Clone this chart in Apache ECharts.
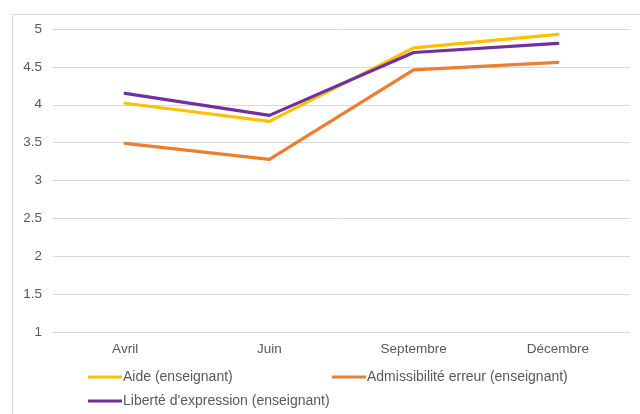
<!DOCTYPE html>
<html>
<head>
<meta charset="utf-8">
<script src="https://cdn.jsdelivr.net/npm/echarts@6/dist/echarts.min.js"></script>
<style>
  html, body { margin: 0; padding: 0; background: #fff; }
  #chart { width: 640px; height: 414px; }
</style>
</head>
<body>
<div id="chart"></div>
<script>
// Mois de mesure
const months = ['Avril', 'Juin', 'Septembre', 'Décembre'];

// Scores moyens par dimension (perception de l'enseignant)
const aide = [4.02, 3.78, 4.75, 4.93];
const admissibiliteErreur = [3.49, 3.28, 4.46, 4.56];
const liberteExpression = [4.15, 3.86, 4.69, 4.81];

const seriesNames = [
  'Aide (enseignant)',
  'Admissibilité erreur (enseignant)',
  "Liberté d'expression (enseignant)"
];
const seriesColors = ['#FFC000', '#ED7D31', '#7030A0'];
const seriesData = [aide, admissibiliteErreur, liberteExpression];

const font = 'Liberation Sans, Arial, Helvetica, sans-serif';
const textColor = '#595959';

const chart = echarts.init(document.getElementById('chart'), null, { renderer: 'canvas' });

function legendAt(name, left, top) {
  return {
    data: [name],
    left: left,
    top: top,
    orient: 'horizontal',
    icon: 'rect',
    itemWidth: 34,
    itemHeight: 3,
    itemGap: 0,
    padding: 0,
    textStyle: { fontFamily: font, fontSize: 14, color: textColor, padding: [0, 0, 0, -4] }
  };
}

chart.setOption({
  animation: false,
  backgroundColor: '#ffffff',
  graphic: [{
    type: 'rect',
    shape: { x: 12.5, y: 14.5, width: 700, height: 500 },
    style: { fill: 'none', stroke: '#d9d9d9', lineWidth: 1 },
    silent: true
  }],
  grid: { left: 53, right: 10, top: 29, bottom: 82, containLabel: false },
  legend: [
    legendAt(seriesNames[0], 88, 370),
    legendAt(seriesNames[1], 332, 370),
    legendAt(seriesNames[2], 88, 394)
  ],
  xAxis: {
    type: 'category',
    data: months,
    boundaryGap: true,
    axisLine: { show: false },
    axisTick: { show: false },
    axisLabel: { color: textColor, fontFamily: font, fontSize: 13.5, margin: 10 }
  },
  yAxis: {
    type: 'value',
    min: 1,
    max: 5,
    interval: 0.5,
    axisLine: { show: false },
    axisTick: { show: false },
    axisLabel: { color: textColor, fontFamily: font, fontSize: 13.5, margin: 11 },
    splitLine: { lineStyle: { color: '#d9d9d9', width: 1 } }
  },
  series: seriesData.map((d, i) => ({
    name: seriesNames[i],
    type: 'line',
    data: d,
    symbol: 'none',
    color: seriesColors[i],
    lineStyle: { color: seriesColors[i], width: 3.2, cap: 'round', join: 'round' }
  }))
});
</script>
</body>
</html>
